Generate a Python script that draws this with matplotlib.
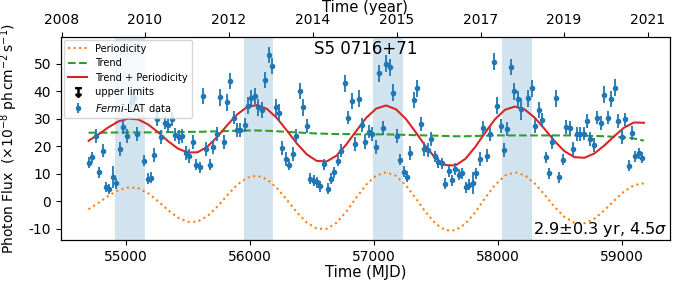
import numpy as np
import matplotlib
matplotlib.use('Agg')
import matplotlib.pyplot as plt

plt.rcParams['axes.unicode_minus'] = False

# Fermi-LAT light curve (MJD, flux in 1e-8 ph cm^-2 s^-1)
mjd = np.array([54702, 54728, 54758, 54785, 54815, 54841, 54868, 54898, 54925, 54952,
                54981, 55008, 55041, 55067, 55094, 55148, 55180, 55202, 55228, 55255,
                55288, 55315, 55341, 55371, 55401, 55427, 55457, 55486, 55513, 55540,
                55567, 55597, 55623, 55651, 55677, 55707, 55734, 55761, 55790, 55817,
                55844, 55873, 55898, 55925, 55960, 55986, 56013, 56040, 56067, 56097,
                56124, 56153, 56180, 56210, 56237, 56263, 56293, 56320, 56347, 56377,
                56403, 56433, 56460, 56486, 56516, 56543, 56570, 56599, 56629, 56653,
                56683, 56712, 56739, 56766, 56793, 56823, 56849, 56879, 56906, 56933,
                56962, 56990, 57019, 57046, 57073, 57103, 57129, 57156, 57185, 57212,
                57242, 57269, 57296, 57325, 57352, 57379, 57409, 57435, 57465, 57492,
                57519, 57548, 57575, 57605, 57632, 57659, 57688, 57715, 57744, 57771,
                57798, 57828, 57855, 57885, 57911, 57938, 57968, 57994, 58024, 58051,
                58078, 58105, 58135, 58161, 58191, 58244, 58274, 58301, 58331, 58357,
                58387, 58414, 58441, 58470, 58498, 58524, 58554, 58581, 58611, 58637,
                58664, 58694, 58720, 58748, 58777, 58804, 58833, 58860, 58889, 58917,
                58944, 58973, 59000, 59027, 59056, 59083, 59110, 59140, 59167])
flux = np.array([13.9, 15.9, 23.8, 10.5, 18.4, 5.1, 4.5, 8.7, 6.5, 19.0,
                 27.0, 23.8, 36.0, 37.5, 24.4, 14.7, 8.1, 8.5, 16.9, 29.8,
                 23.2, 28.6, 27.8, 29.8, 24.2, 23.4, 23.6, 17.4, 16.4, 21.4,
                 13.2, 12.3, 38.3, 19.0, 13.3, 19.8, 24.4, 37.7, 21.4, 35.9,
                 43.7, 30.4, 26.0, 26.0, 27.8, 34.7, 37.4, 38.3, 34.1, 33.1,
                 44.0, 53.2, 49.2, 34.1, 32.2, 19.2, 15.3, 13.2, 17.2, 23.8,
                 40.1, 34.1, 27.4, 8.1, 7.5, 6.9, 5.4, 13.5, 4.5, 8.1,
                 10.5, 14.7, 18.4, 42.8, 30.4, 36.5, 20.8, 37.3, 27.8, 21.4,
                 25.3, 24.4, 19.6, 46.5, 26.6, 50.0, 48.6, 39.5, 23.6, 15.0,
                 10.7, 8.9, 17.4, 36.7, 41.0, 28.0, 19.0, 18.6, 22.6, 16.3,
                 14.1, 13.8, 6.3, 10.8, 7.7, 11.7, 9.7, 10.1, 5.1, 6.0,
                 6.5, 10.1, 15.3, 26.6, 16.6, 24.4, 50.7, 34.7, 27.4, 18.7,
                 26.2, 48.8, 39.9, 37.1, 33.4, 37.4, 41.0, 27.4, 33.1, 29.5,
                 15.9, 10.1, 21.4, 37.4, 8.7, 15.0, 27.0, 26.6, 19.0, 24.4,
                 24.4, 24.6, 29.2, 22.6, 20.4, 30.4, 28.3, 38.7, 30.4, 37.1,
                 41.3, 29.2, 23.4, 29.7, 12.9, 24.7, 16.4, 17.4, 15.7])
flux_err = np.array([2.0, 2.0, 2.5, 2.0, 2.5, 1.8, 1.8, 4.0, 2.0, 2.5,
                     2.5, 2.5, 3.0, 3.0, 2.5, 2.0, 2.0, 2.0, 2.5, 2.5,
                     2.5, 2.5, 2.5, 2.5, 2.5, 2.5, 2.5, 2.5, 2.5, 2.5,
                     2.0, 2.0, 3.0, 2.5, 2.0, 2.5, 2.5, 3.0, 2.5, 3.0,
                     3.0, 2.5, 2.5, 2.5, 2.5, 3.0, 3.0, 3.0, 3.0, 3.0,
                     3.0, 3.0, 3.0, 3.0, 3.0, 2.5, 2.5, 2.0, 2.5, 2.5,
                     3.0, 3.0, 2.5, 2.0, 2.0, 2.0, 2.0, 2.0, 2.0, 2.0,
                     2.0, 2.0, 2.5, 3.0, 2.5, 3.0, 2.5, 3.0, 2.5, 2.5,
                     2.5, 2.5, 2.5, 3.0, 2.5, 3.0, 3.0, 3.0, 2.5, 2.0,
                     2.0, 2.0, 2.5, 3.0, 3.0, 2.5, 2.5, 2.5, 2.5, 2.0,
                     2.0, 2.0, 2.0, 2.0, 2.0, 2.0, 2.0, 2.0, 2.0, 2.0,
                     4.0, 2.0, 2.5, 2.5, 2.5, 2.5, 3.0, 3.0, 2.5, 2.5,
                     2.5, 3.0, 3.0, 3.0, 4.0, 3.0, 3.0, 2.5, 3.0, 2.5,
                     2.0, 2.0, 2.5, 3.0, 2.0, 2.0, 2.5, 2.5, 2.5, 2.5,
                     2.5, 2.5, 2.5, 2.5, 2.5, 2.5, 2.5, 3.0, 2.5, 3.0,
                     3.0, 2.5, 2.5, 2.5, 2.0, 2.5, 2.0, 2.0, 2.0])

# model curves sampled every 80 days
t_model = np.arange(54700, 59181, 80)
periodicity = np.array([-2.95, -0.59, 1.94, 3.98, 5.03, 4.72, 2.90, 0.00, -3.23, -5.97,
                        -7.51, -7.42, -5.41, -1.92, 2.21, 6.00, 8.56, 9.28, 7.92, 4.76,
                        0.47, -4.03, -7.77, -9.94, -10.07, -7.85, -3.74, 1.28, 6.01, 9.35,
                        10.50, 9.20, 5.79, 1.02, -4.03, -8.21, -10.57, -10.60, -8.21, -3.96,
                        1.17, 5.96, 9.34, 10.50, 9.38, 6.42, 2.29, -2.10, -5.76, -7.88,
                        -8.02, -6.37, -3.40, 0.20, 3.53, 5.81, 6.49])
trend = np.array([24.9, 24.9, 24.9, 25.0, 25.0, 25.0, 25.0, 25.1, 25.1, 25.1,
                  25.2, 25.2, 25.3, 25.4, 25.5, 25.6, 25.7, 25.7, 25.6, 25.4,
                  25.2, 25.0, 24.8, 24.6, 24.5, 24.4, 24.4, 24.3, 24.3, 24.3,
                  24.3, 24.2, 24.1, 24.0, 23.9, 23.8, 23.7, 23.6, 23.6, 23.7,
                  23.8, 23.9, 23.9, 23.9, 23.9, 23.9, 23.9, 23.9, 23.9, 23.9,
                  23.8, 23.7, 23.6, 23.4, 23.2, 22.8, 22.0])

# high states (shaded)
span_start = [54911, 55952, 56992, 58032]
span_end = [55153, 56185, 57234, 58274]

# top axis ticks
year_tick_mjd = [54484, 55153, 55831, 56508, 57185, 57863, 58532, 59210]
year_labels = ['2008', '2010', '2012', '2014', '2015', '2017', '2019', '2021']

fig = plt.figure(figsize=(6.76, 2.82), dpi=100)
ax = fig.add_axes([0.090, 0.149, 0.901, 0.72])

for s, e in zip(span_start, span_end):
    ax.axvspan(s, e, color='tab:blue', alpha=0.2, lw=0)

ax.plot(t_model, periodicity, ':', color='tab:orange', lw=1.5, label='Periodicity')
ax.plot(t_model, trend, '--', color='tab:green', lw=1.5, label='Trend')
ax.plot(t_model, trend + periodicity, '-', color='tab:red', lw=1.5, label='Trend + Periodicity')
# no upper limits in this light curve, only the legend entry
ax.plot([np.nan], [np.nan], ls='none', marker='$↧$', ms=7, color='k', label='upper limits')
ax.errorbar(mjd, flux, yerr=flux_err, fmt='o', ms=3, color='tab:blue',
            elinewidth=1.3, label=r'$\it{Fermi}$-LAT data')

ax.set_xlim(54476, 59390)
ax.set_ylim(-14.1, 59.7)
ax.set_xticks([55000, 56000, 57000, 58000, 59000])
ax.set_yticks([-10, 0, 10, 20, 30, 40, 50])
ax.tick_params(labelsize=10)
ax.set_xlabel('Time (MJD)', fontsize=10.7, labelpad=1)
ax.set_ylabel(r'Photon Flux  $(\times 10^{-8}\ \mathrm{ph\,cm^{-2}\,s^{-1}})$',
              fontsize=10, labelpad=6)

ax.text(0.5, 0.985, 'S5 0716+71', transform=ax.transAxes, ha='center', va='top', fontsize=12)
ax.text(0.997, 0.005, r'2.9$\pm$0.3 yr, 4.5$\sigma$', transform=ax.transAxes,
        ha='right', va='bottom', fontsize=11.6)

ax.legend(loc='upper left', fontsize=7.1, handlelength=2.0, borderaxespad=0.3,
          labelspacing=0.45)

ax2 = ax.twiny()
ax2.set_xlim(ax.get_xlim())
ax2.set_xticks(year_tick_mjd)
ax2.set_xticklabels(year_labels)
ax2.tick_params(labelsize=10)
ax2.set_xlabel('Time (year)', fontsize=10.7, labelpad=1)

fig.savefig('out.png', dpi=100)
